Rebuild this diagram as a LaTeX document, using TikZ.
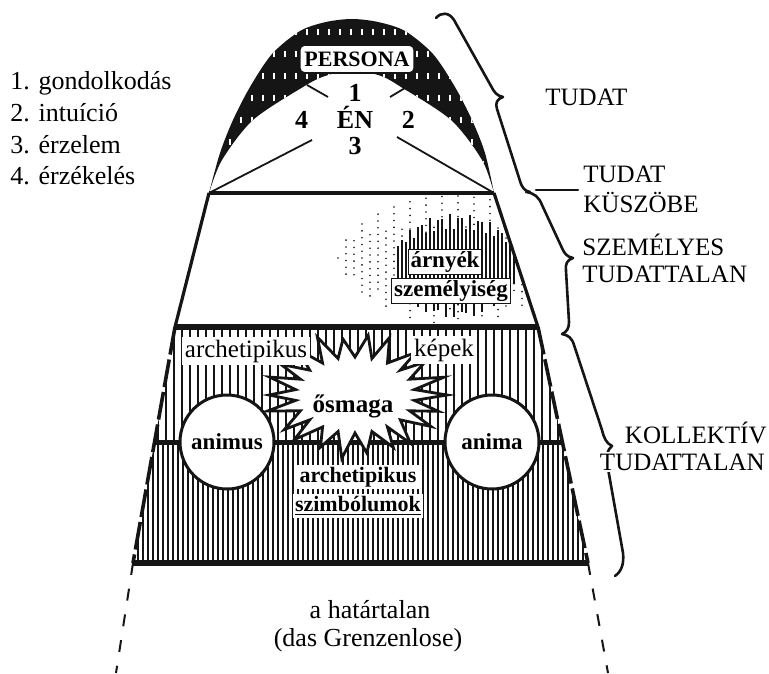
\documentclass[tikz,border=0pt]{standalone}
\usepackage{fontspec}
\setmainfont{Liberation Serif}
\usepackage{xcolor}
\definecolor{cInk}{HTML}{151515}
\usepackage{tikz}
\usetikzlibrary{positioning,calc}
\tikzset{
  line-main/.style={draw=cInk,line width=1.6pt,line join=round},
  line-heavy/.style={draw=cInk,line width=2.6pt},
  line-edge/.style={draw=cInk,line width=1.8pt,dash pattern=on 14pt off 2.5pt},
  line-open/.style={draw=cInk,line width=1pt,dash pattern=on 6pt off 7pt},
  line-ray/.style={draw=cInk,line width=0.9pt},
  streak/.style={draw=white,line width=0.8pt,dash pattern=on 3pt off 8pt},
  hatch-thin/.style={draw=cInk,line width=0.7pt},
  hatch-dense/.style={draw=cInk,line width=1.35pt},
  shadow-dots/.style={draw=cInk,line width=0.9pt,line cap=round,dash pattern=on 0pt off 3.4pt},
  shadow-bars/.style={draw=cInk,line width=0.6pt},
  star-edge/.style={draw=cInk,line width=1.4pt,fill=white,line join=miter},
  brace/.style={draw=cInk,line width=1.3pt,line cap=round,line join=round},
  txt-caps/.style={inner sep=0pt,font=\fontsize{12.5}{15}\selectfont},
  txt-list/.style={inner sep=0pt,anchor=base west,font=\fontsize{13}{15}\selectfont},
  txt-reg/.style={inner sep=1.5pt,fill=white,font=\fontsize{12.5}{15}\selectfont},
  txt-bold/.style={inner sep=1.2pt,fill=white,font=\bfseries\fontsize{11}{13}\selectfont},
  txt-en/.style={inner sep=0pt,font=\bfseries\fontsize{13}{15}\selectfont},
  txt-shadow/.style={txt-bold,draw=cInk,line width=0.5pt,font=\bfseries\fontsize{11.5}{13}\selectfont},
  txt-big/.style={inner sep=0pt,font=\fontsize{13}{15}\selectfont},
  persona-box/.style={draw=cInk,fill=white,line width=0.9pt,rounded corners=2.5pt,
    inner xsep=2.4pt,minimum height=13.5pt,font=\bfseries\fontsize{11}{13}\selectfont},
  node-soul/.style={circle,draw=cInk,line width=1.5pt,fill=white,minimum size=47pt,
    inner sep=0pt,font=\bfseries\fontsize{11.5}{13}\selectfont},
}

\begin{document}
\begin{tikzpicture}[x=0.5pt,y=-0.5pt]
  \useasboundingbox (0,0) rectangle (769,673);
  \coordinate (tl) at (209,193);
  \coordinate (tr) at (494,193);
  \coordinate (ml) at (175,327);
  \coordinate (mr) at (538,327);
  \coordinate (bl) at (133,563);
  \coordinate (br) at (588,563);
  \coordinate (cl) at ($(ml)!0.49!(bl)$);
  \coordinate (cr) at ($(mr)!0.49!(br)$);
  \coordinate (open-l) at (116,673);
  \coordinate (open-r) at (608,673);

  % persona band
  \begin{scope}
    \clip plot[smooth] coordinates {(209,193) (220,153) (233,120) (250,87) (272,54) (300,31)
        (326,22) (352,19) (378,22) (405,31) (433,54) (455,87) (472,120) (485,153) (494,193)}
      -- plot[smooth] coordinates {(494,193) (482,160) (451,120) (401,87) (381,76) (353,70)
        (325,76) (303,87) (253,120) (222,160) (209,193)} -- cycle;
    \fill[cInk] (200,10) rectangle (505,200);
    \foreach \x in {230,241,...,484} {
      \pgfmathsetmacro\ph{mod(\x*7,11)}
      \draw[streak,dash phase={\ph pt}] (\x,15) -- (\x,195);
    }
  \end{scope}

  % shadow stipple
  \begin{scope}
    \clip (tl) -- (tr) -- (mr) -- (ml) -- cycle;
    \foreach \x in {338,346,...,538} {
      \pgfmathsetmacro\h{62*sqrt(max(0,1-(\x-455)*(\x-455)/13225))}
      \pgfmathsetmacro\ya{258-\h*(0.75+0.25*sin(\x*23))}
      \pgfmathsetmacro\yb{262+\h*(0.8+0.2*cos(\x*29))}
      \draw[shadow-dots] (\x,\ya) -- (\x,\yb);
    }
    \foreach \x in {398,402,...,516} {
      \pgfmathsetmacro\h{48*sqrt(max(0,1-(\x-456)*(\x-456)/3844))}
      \pgfmathsetmacro\ya{262-\h*(0.55+0.45*abs(sin(\x*27)))}
      \pgfmathsetmacro\yb{270+\h*(0.5+0.5*abs(cos(\x*19)))}
      \draw[shadow-bars] (\x,\ya) -- (\x,\yb);
    }
  \end{scope}

  % collective hatching
  \begin{scope}
    \clip (ml) -- (mr) -- (br) -- (bl) -- cycle;
    \foreach \x in {150,158,...,566}
      \draw[hatch-thin] (\x,320) -- (\x,445);
    \foreach \x in {128,133,...,592}
      \draw[hatch-dense] (\x,443) -- (\x,566);
  \end{scope}
  \draw[line-heavy] (cl) -- (cr);

  \begin{scope}[shift={(355,395)}]
    \draw[star-edge] (92,0)
      \foreach \i [evaluate=\i as \rx using {isodd(\i) ? 60 : 88+5*sin(\i*97)},
                   evaluate=\i as \ry using {isodd(\i) ? 38 : 60+4*cos(\i*61)}] in {1,...,43}
      { -- ({\rx*cos(\i*360/44)},{\ry*sin(\i*360/44)}) } -- cycle;
  \end{scope}
  \node[node-soul] (animus) at (227,442) {animus};
  \node[node-soul] (anima) at (492,442) {anima};

  % outline
  \draw[line-main] (tl) -- (tr);
  \draw[line-main] (tl) -- (ml) (tr) -- (mr);
  \draw[line-heavy] (ml) -- (mr);
  \draw[line-edge] (ml) -- (bl) (mr) -- (br);
  \draw[line-heavy,line width=3pt] (bl) -- (br);
  \draw[line-open] (bl) -- (open-l) (br) -- (open-r);

  \node[persona-box] (persona) at (357,59) {PERSONA};
  \node[txt-en] (en) at (355,117) {ÉN};
  \node[txt-en,above=2pt of en] (fn1) {1};
  \node[txt-en,base right=14pt of en] (fn2) {2};
  \node[txt-en,below=4pt of en] (fn3) {3};
  \node[txt-en,base left=14pt of en] (fn4) {4};
  \draw[line-ray] (307,85) -- (328,97);
  \draw[line-ray] (390,97) -- (410,85);
  \draw[line-ray] (312,140) -- (tl);
  \draw[line-ray] (397,137) -- (tr);

  \node[txt-shadow] (shadow2) at (451,291) {személyiség};
  \node[txt-shadow] (shadow1) at (445,262) {árnyék};

  \node[txt-reg] (arch-img) at (246,351) {archetipikus};
  \node[txt-reg] (images) at (444,350) {képek};
  \node[txt-bold,fill=none,font=\bfseries\fontsize{12.5}{15}\selectfont] (self) at (353,406) {ősmaga};
  \node[txt-bold] (arch-sym) at (358,477) {archetipikus};
  \node[txt-bold] (symbols) at (358,506) {\underline{szimbólumok}};

  \node[txt-big] (boundless) at (370,610) {a határtalan};
  \node[txt-big] (boundless2) at (368,640) {(das Grenzenlose)};

  \foreach \t [count=\k] in {gondolkodás,intuíció,érzelem,érzékelés}
    \node[txt-list] (fn-\k) at (10,{58+31.7*\k}) {\k. \t};

  % braces
  \draw[brace] (436,18) .. controls (441,12) and (449,12) .. (454,20)
    -- (491,86) .. controls (494,92) and (497,96) .. (503,97)
    .. controls (497,99) and (495,103) .. (497,109)
    -- (520,181) .. controls (522,188) and (525,191) .. (530,192);
  \draw[brace] (526,192) .. controls (534,193) and (539,197) .. (542,205)
    -- (562,248) .. controls (564,253) and (567,257) .. (573,258)
    .. controls (567,260) and (565,264) .. (566,271)
    -- (569,322) .. controls (569,328) and (567,332) .. (562,334);
  \draw[brace] (562,334) .. controls (568,335) and (572,338) .. (574,345)
    -- (602,430) .. controls (604,438) and (606,443) .. (612,446)
    .. controls (607,450) and (606,456) .. (607,463)
    -- (623,553) .. controls (624,563) and (622,571) .. (615,576);
  \coordinate (thr-tip) at (536,190);
  \draw[brace] (thr-tip) -- ++(42,0);

  \node[txt-caps,anchor=base west] (lvl-tudat) at (545,106) {TUDAT};
  \node[txt-caps,anchor=base west] (lvl-thr) at (583,183) {TUDAT};
  \node[txt-caps,anchor=base west] (lvl-thr2) at ([yshift=-15pt]lvl-thr.base west) {KÜSZÖBE};
  \node[txt-caps,anchor=base west] (lvl-pers) at (582,256) {SZEMÉLYES};
  \node[txt-caps,anchor=base west] (lvl-pers2) at ([yshift=-13.5pt]lvl-pers.base west) {TUDATTALAN};
  \node[txt-caps,anchor=base east] (lvl-coll) at (767,443) {KOLLEKTÍV};
  \node[txt-caps,anchor=base east,fill=white,inner sep=1pt] (lvl-coll2)
    at ([yshift=-13.5pt]lvl-coll.base east) {TUDATTALAN};
\end{tikzpicture}
\end{document}
